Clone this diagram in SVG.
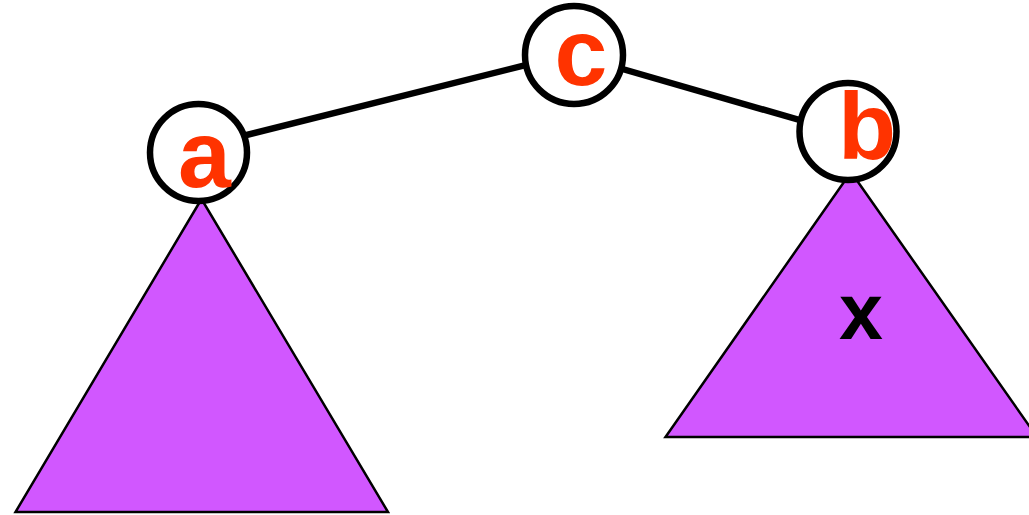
<svg xmlns="http://www.w3.org/2000/svg" width="1029" height="515" viewBox="0 0 1029 515">
<style>
.tri{fill:#d157ff;stroke:#000;stroke-width:2.5;stroke-linejoin:miter}
.node{fill:#fff;stroke:#000;stroke-width:6.5}
.lbl{font-family:"Liberation Sans",Arial,sans-serif;font-weight:bold;font-size:95px;fill:#ff3300;text-anchor:middle}
.edge{stroke:#000;stroke-width:6.5;fill:none}
</style>
<rect width="1029" height="515" fill="#fff"/>
<g id="tree-left"><polygon class="tri" points="201.5,199 15.5,512 388,512"/></g>
<g id="tree-right"><polygon class="tri" points="851,172 665.5,437 1037,437"/>
<text x="861" y="339" style="font-family:'Liberation Sans',Arial,sans-serif;font-weight:bold;font-size:79px;fill:#000;text-anchor:middle">x</text></g>
<g id="connectors">
<line class="edge" x1="198.5" y1="147" x2="574" y2="53"/>
<line class="edge" x1="574" y1="55" x2="848" y2="134"/>
</g>
<g id="node-a"><circle class="node" cx="198.5" cy="152.5" r="48.5"/><text class="lbl" x="204.5" y="187">a</text></g>
<g id="node-c"><circle class="node" cx="574" cy="55" r="49"/><text class="lbl" x="581" y="85">c</text></g>
<g id="node-b"><circle class="node" cx="848" cy="131.5" r="48.5"/><text class="lbl" x="867" y="159">b</text></g>
</svg>
